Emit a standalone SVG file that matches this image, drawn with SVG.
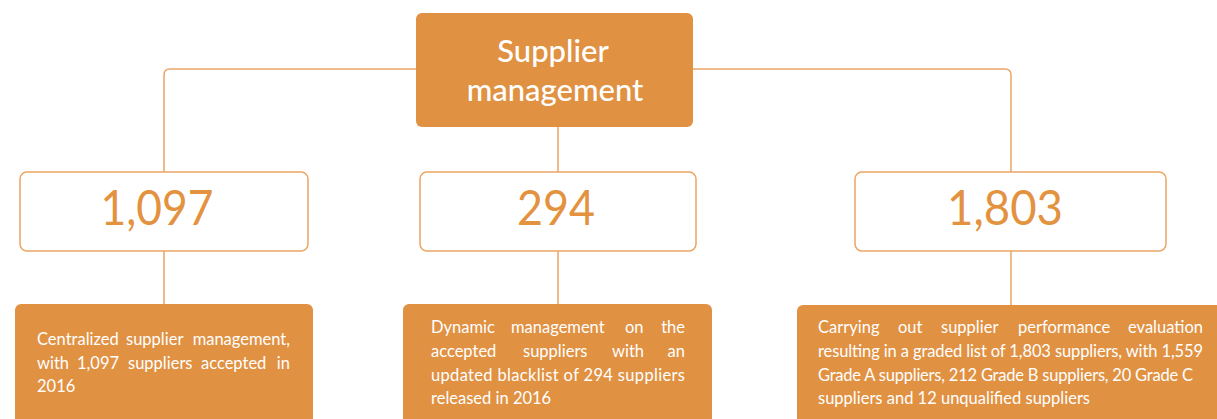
<svg xmlns="http://www.w3.org/2000/svg" width="1217" height="419" viewBox="0 0 1217 419">
<style>
.conn{fill:none;stroke:#EBA564;stroke-width:1.5}
.numbox{fill:#fff;stroke:#EBA564;stroke-width:1.5}
.fill{fill:#E19142}
.num{font-family:Lato,"Open Sans",sans-serif;font-weight:400;font-size:48px;fill:#E39240;text-anchor:middle}
.title{font-family:Lato,"Open Sans",sans-serif;font-weight:500;font-size:31px;fill:#fff;text-anchor:middle}
.body{font-family:Lato,"Open Sans",sans-serif;font-size:16.5px;fill:#fff}
.end{text-anchor:end}
</style>
<rect width="1217" height="419" fill="#fff"/>
<g id="connectors">
<path class="conn" d="M416,69 H170 Q164,69 164,75 V172"/>
<path class="conn" d="M164,251 V304"/>
<path class="conn" d="M693,69 H1005 Q1011,69 1011,75 V172"/>
<path class="conn" d="M1011,251 V306"/>
<path class="conn" d="M558,127 V172"/>
<path class="conn" d="M558,251 V304"/>
</g>
<g id="root">
<rect class="fill" x="416" y="13" width="277" height="114" rx="6"/>
<text class="title" x="553" y="62">Supplier</text>
<text class="title" x="555" y="101">management</text>
</g>
<g id="num1">
<rect class="numbox" x="20" y="172" width="288" height="79" rx="7"/>
<text class="num" x="157" y="225" textLength="113" lengthAdjust="spacingAndGlyphs">1,097</text>
</g>
<g id="num2">
<rect class="numbox" x="420" y="172" width="276" height="79" rx="7"/>
<text class="num" x="556" y="225" textLength="78" lengthAdjust="spacingAndGlyphs">294</text>
</g>
<g id="num3">
<rect class="numbox" x="855" y="172" width="311" height="79" rx="7"/>
<text class="num" x="1005" y="225" textLength="116" lengthAdjust="spacingAndGlyphs">1,803</text>
</g>
<g id="desc1">
<rect class="fill" x="15" y="304" width="298" height="130" rx="6"/>
<text class="body" y="345"><tspan x="37">Centralized</tspan><tspan x="126">supplier</tspan></text>
<text class="body end" x="290" y="345">management,</text>
<text class="body" y="369"><tspan x="37">with</tspan><tspan x="77">1,097</tspan><tspan x="128">suppliers</tspan><tspan x="201">accepted</tspan></text>
<text class="body end" x="290" y="369">in</text>
<text class="body" x="37" y="392">2016</text>
</g>
<g id="desc2">
<rect class="fill" x="403" y="304" width="309" height="130" rx="6"/>
<text class="body" y="333"><tspan x="431">Dynamic</tspan><tspan x="511">management</tspan><tspan x="625">on</tspan></text>
<text class="body end" x="685" y="333">the</text>
<text class="body" y="357"><tspan x="431">accepted</tspan><tspan x="523">suppliers</tspan><tspan x="612">with</tspan></text>
<text class="body end" x="685" y="357">an</text>
<text class="body" x="431" y="381" textLength="254" lengthAdjust="spacing">updated blacklist of 294 suppliers</text>
<text class="body" x="431" y="404">released in 2016</text>
</g>
<g id="desc3">
<rect class="fill" x="797" y="305" width="440" height="130" rx="6"/>
<text class="body" y="333"><tspan x="818">Carrying</tspan><tspan x="898">out</tspan><tspan x="941">supplier</tspan><tspan x="1018">performance</tspan></text>
<text class="body end" x="1203" y="333">evaluation</text>
<text class="body" x="818" y="357" textLength="385" lengthAdjust="spacing">resulting in a graded list of 1,803 suppliers, with 1,559</text>
<text class="body" x="818" y="381" textLength="375" lengthAdjust="spacing">Grade A suppliers, 212 Grade B suppliers, 20 Grade C</text>
<text class="body" x="818" y="404">suppliers and 12 unqualified suppliers</text>
</g>
</svg>
